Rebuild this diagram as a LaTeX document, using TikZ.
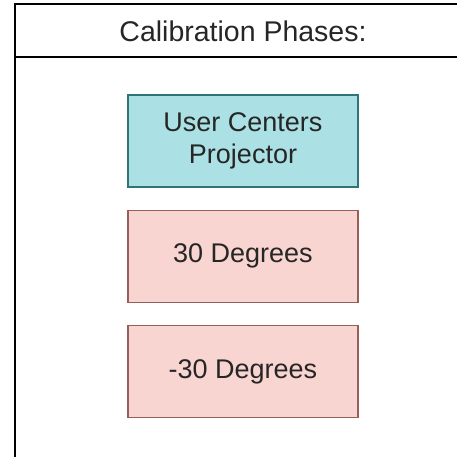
\documentclass[tikz,border=0pt]{standalone}
\usepackage{fontspec}
\setmainfont{Liberation Sans}
\usetikzlibrary{positioning}
\definecolor{tealfill}{HTML}{ABE1E4}
\definecolor{tealline}{HTML}{2F7476}
\definecolor{redfill}{HTML}{F9D5D1}
\definecolor{redline}{HTML}{95605B}

\begin{document}
\begin{tikzpicture}[x=1pt, y=-1pt,
    phase/.style={draw, line width=1.2pt, align=center, minimum width=230pt, minimum height=92pt, inner sep=0pt, text=black!85, font=\fontsize{27}{32.4}\selectfont},
    node distance=22pt
  ]
    \useasboundingbox (0,0) rectangle (457,457);
    \draw[line width=2pt] (457,4.5) -- (14.5,4.5) -- (14.5,457);
    \draw[line width=2pt] (14.5,57.5) -- (457,57.5);
    \node[text=black!85, font=\fontsize{28.5}{34}\selectfont] (title) at (243,31) {Calibration Phases:};
    \node[phase, fill=tealfill, draw=tealline] (center) at (243,141) {User Centers\\Projector};
    \node[phase, fill=redfill, draw=redline, below=of center] (plus) {30 Degrees};
    \node[phase, fill=redfill, draw=redline, below=of plus] (minus) {-30 Degrees};
  \end{tikzpicture}
\end{document}
